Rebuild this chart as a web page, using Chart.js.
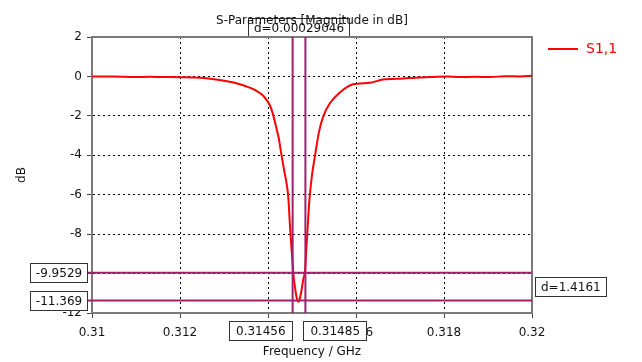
<!DOCTYPE html>
<html>
<head>
<meta charset="utf-8">
<script src="https://cdn.jsdelivr.net/npm/chart.js@4.4.0/dist/chart.umd.min.js"></script>
<style>
html, body { margin: 0; padding: 0; background: #fff; }
#wrap { width: 642px; height: 362px; }
</style>
</head>
<body>
<div id="wrap"><canvas id="chart"></canvas></div>
<script>
// S1,1 trace
const freqGHz = [0.3100, 0.3105, 0.3110, 0.3113, 0.3116, 0.3120, 0.3123, 0.3126, 0.3129, 0.3131,
    0.3133, 0.3135, 0.3137, 0.3138, 0.3139, 0.31405, 0.31411, 0.3142, 0.31425, 0.3143,
    0.31437, 0.31442, 0.31446, 0.31450, 0.31454, 0.31458, 0.31462, 0.31466, 0.31469, 0.31472,
    0.31475, 0.31478, 0.31481, 0.31484, 0.31487, 0.31490, 0.31494, 0.31500, 0.31507, 0.31516,
    0.31526, 0.31541, 0.31564, 0.31593, 0.31632, 0.31661, 0.31707, 0.31745, 0.31807, 0.31836,
    0.31870, 0.31905, 0.31939, 0.31973, 0.3200];
const s11dB = [0.00, 0.00, -0.03, -0.02, -0.03, -0.04, -0.05, -0.09, -0.18, -0.26,
    -0.36, -0.50, -0.68, -0.82, -1.0, -1.5, -1.9, -2.7, -3.2, -3.9,
    -4.8, -5.4, -6.1, -7.6, -8.9, -10.1, -10.8, -11.3, -11.43, -11.3,
    -11.0, -10.6, -10.2, -9.9, -8.8, -7.7, -6.3, -5.0, -4.0, -2.8,
    -2.0, -1.35, -0.8, -0.4, -0.32, -0.16, -0.10, -0.05, 0.0, -0.03,
    -0.02, -0.03, 0.01, 0.00, 0.03];

const xTicks = [0.31, 0.312, 0.314, 0.316, 0.318, 0.32];
const yTicks = [2, 0, -2, -4, -6, -8, -10, -12];

// markers
const markerFreqs = [0.31456, 0.31485];
const markerFreqLabels = ["0.31456", "0.31485"];
const markerLevels = [-9.9529, -11.369];
const markerLevelLabels = ["-9.9529", "-11.369"];
const deltaFreqLabel = "d=0.00029046";
const deltaLevelLabel = "d=1.4161";

const FONT = "DejaVu Sans";
const markerColor = "#a0206e";

function drawBox(ctx, text, x, y, w, h) {
    ctx.fillStyle = "#fff";
    ctx.fillRect(x, y, w, h);
    ctx.strokeStyle = "#333";
    ctx.lineWidth = 1;
    ctx.strokeRect(Math.round(x) + 0.5, Math.round(y) + 0.5, Math.round(w) - 1, Math.round(h) - 1);
    ctx.fillStyle = "#111";
    ctx.textAlign = "center";
    ctx.textBaseline = "middle";
    ctx.fillText(text, x + w / 2, y + h / 2 + 1);
}

const markerPlugin = {
    id: "markers",
    beforeDraw(chart) {
        const { ctx, scales } = chart;
        const area = chart.chartArea;
        ctx.save();
        ctx.font = "12px " + FONT;
        const x1 = scales.x.getPixelForValue(markerFreqs[0]);
        const x2 = scales.x.getPixelForValue(markerFreqs[1]);
        const w = ctx.measureText(deltaFreqLabel).width + 12;
        drawBox(ctx, deltaFreqLabel, (x1 + x2) / 2 - w / 2, area.top - 19, w, 20);
        ctx.restore();
    },
    beforeDatasetsDraw(chart) {
        const { ctx } = chart;
        const area = chart.chartArea;
        ctx.save();
        ctx.strokeStyle = "#7a7a7a";
        ctx.lineWidth = 2;
        ctx.strokeRect(area.left, area.top, area.right - area.left, area.bottom - area.top);
        ctx.restore();
    },
    afterDraw(chart) {
        const { ctx, scales } = chart;
        const area = chart.chartArea;
        ctx.save();
        ctx.font = "12px " + FONT;
        ctx.strokeStyle = markerColor;
        ctx.lineWidth = 2;
        markerFreqs.forEach(function (f) {
            const x = scales.x.getPixelForValue(f);
            ctx.beginPath();
            ctx.moveTo(x, area.top);
            ctx.lineTo(x, area.bottom);
            ctx.stroke();
        });
        markerLevels.forEach(function (v) {
            const y = scales.y.getPixelForValue(v);
            ctx.beginPath();
            ctx.moveTo(area.left - 4, y);
            ctx.lineTo(area.right, y);
            ctx.stroke();
        });

        // level boxes on the left
        markerLevels.forEach(function (v, i) {
            const y = scales.y.getPixelForValue(v);
            const w = 58;
            drawBox(ctx, markerLevelLabels[i], area.left - 4 - w, y - 10, w, 20);
        });
        // frequency boxes below
        const fx1 = scales.x.getPixelForValue(markerFreqs[0]);
        const fx2 = scales.x.getPixelForValue(markerFreqs[1]);
        const bw = ctx.measureText(markerFreqLabels[0]).width + 14;
        drawBox(ctx, markerFreqLabels[0], fx1 - bw, area.bottom + 8, bw, 20);
        drawBox(ctx, markerFreqLabels[1], fx2 - 2, area.bottom + 8, bw, 20);

        // delta box on the right
        const ly1 = scales.y.getPixelForValue(markerLevels[0]);
        const ly2 = scales.y.getPixelForValue(markerLevels[1]);
        const dw = ctx.measureText(deltaLevelLabel).width + 12;
        drawBox(ctx, deltaLevelLabel, area.right + 3, (ly1 + ly2) / 2 - 10, dw, 20);

        // legend
        const ds = chart.data.datasets[0];
        const legY = area.top + 12;
        ctx.strokeStyle = ds.borderColor;
        ctx.lineWidth = 2;
        ctx.beginPath();
        ctx.moveTo(area.right + 16, legY);
        ctx.lineTo(area.right + 46, legY);
        ctx.stroke();
        ctx.font = "14px " + FONT;
        ctx.fillStyle = ds.borderColor;
        ctx.textAlign = "left";
        ctx.textBaseline = "middle";
        ctx.fillText(ds.label, area.right + 54, legY);
        ctx.restore();
    },
};

function edgeColor(scale) {
    return function (c) {
        const v = c.tick ? c.tick.value : null;
        if (v === scale.min || v === scale.max) return "rgba(0,0,0,0)";
        return "#000";
    };
}

const ctx = document.getElementById("chart");
new Chart(ctx, {
    type: "line",
    data: {
        datasets: [
            {
                label: "S1,1",
                data: freqGHz.map(function (f, i) { return { x: f, y: s11dB[i] }; }),
                borderColor: "#ff0000",
                borderWidth: 2,
                pointRadius: 0,
                cubicInterpolationMode: "monotone",
                fill: false,
            },
        ],
    },
    options: {
        responsive: true,
        maintainAspectRatio: false,
        animation: false,
        layout: { padding: { right: 110 } },
        scales: {
            x: {
                type: "linear",
                min: 0.31,
                max: 0.32,
                afterBuildTicks: function (axis) {
                    axis.ticks = xTicks.map(function (v) { return { value: v }; });
                },
                afterFit: function (scale) { scale.height = 49; },
                ticks: {
                    callback: function (v) { return String(v); },
                    font: { family: FONT, size: 12 },
                    color: "#111",
                    padding: 8,
                    maxRotation: 0,
                },
                grid: {
                    color: edgeColor({ min: 0.31, max: 0.32 }),
                    lineWidth: 1,
                    tickLength: 5,
                    tickColor: "#444",
                    tickBorderDash: [],
                },
                border: { color: "#7a7a7a", width: 2, dash: [2, 3] },
                title: {
                    display: true,
                    text: "Frequency / GHz",
                    font: { family: FONT, size: 12 },
                    color: "#111",
                    padding: { top: 0, bottom: 3 },
                },
            },
            y: {
                min: -12,
                max: 2,
                afterBuildTicks: function (axis) {
                    axis.ticks = yTicks.map(function (v) { return { value: v }; });
                },
                afterFit: function (scale) { scale.width = 92; },
                ticks: {
                    font: { family: FONT, size: 12 },
                    color: "#111",
                    padding: 5,
                },
                grid: {
                    color: edgeColor({ min: -12, max: 2 }),
                    lineWidth: 1,
                    tickLength: 5,
                    tickColor: "#444",
                    tickBorderDash: [],
                },
                border: { color: "#7a7a7a", width: 2, dash: [2, 3] },
                title: {
                    display: true,
                    text: "dB",
                    font: { family: FONT, size: 12 },
                    color: "#111",
                    padding: { top: 15, bottom: 0 },
                },
            },
        },
        plugins: {
            legend: { display: false },
            tooltip: { enabled: false },
            title: {
                display: true,
                text: "S-Parameters [Magnitude in dB]",
                fullSize: false,
                font: { family: FONT, size: 12, weight: "normal" },
                color: "#111",
                padding: { top: 14, bottom: 8.6 },
            },
        },
    },
    plugins: [markerPlugin],
});
</script>
</body>
</html>
